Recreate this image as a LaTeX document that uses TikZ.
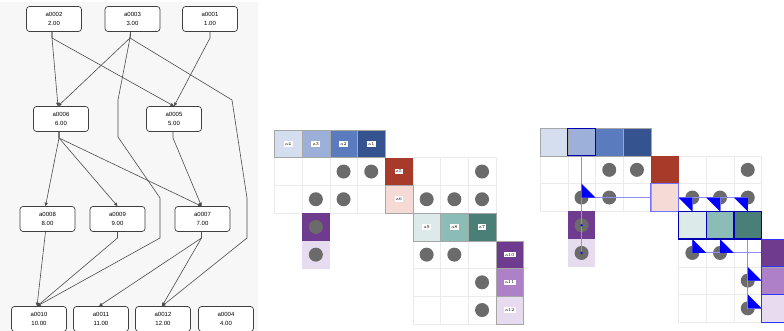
\documentclass[tikz,border=0pt]{standalone}
\usepackage{fontspec}
\newfontfamily\dagfont{Liberation Sans}
\usetikzlibrary{arrows.meta}

\definecolor{blueA}{HTML}{D5DEEF}
\definecolor{blueB}{HTML}{9DB0D9}
\definecolor{blueC}{HTML}{5B7BBF}
\definecolor{blueD}{HTML}{34538F}
\definecolor{redA}{HTML}{A83A2A}
\definecolor{redB}{HTML}{F5DAD5}
\definecolor{tealA}{HTML}{DCEAE9}
\definecolor{tealB}{HTML}{8CBCB6}
\definecolor{tealC}{HTML}{4A7F77}
\definecolor{purpA}{HTML}{6F3B8F}
\definecolor{purpB}{HTML}{AE80C8}
\definecolor{purpC}{HTML}{E7DCEF}

\begin{document}
\begin{tikzpicture}[x=1pt, y=-1pt, >={Triangle[length=3.5pt, width=3.2pt]},
    dag/.style={draw=black!75, fill=white, rounded corners=3pt, line width=0.7pt,
      minimum width=55pt, minimum height=25pt, align=center,
      font=\dagfont\fontsize{6}{9}\selectfont},
    link/.style={->, black!70, line width=0.6pt},
    tag/.style={fill=white, inner sep=1.3pt, font=\fontsize{4.5}{5}\selectfont},
    cellgrid/.style={draw=black!8, line width=0.4pt},
    cell/.style={draw=black!35, line width=0.4pt},
    ball/.style={fill=black!58},
    hl/.style={blue!45, line width=1pt},
    tri/.style={fill=blue}]
    \useasboundingbox (0,0) rectangle (784,331);
    \clip (0,0) rectangle (784,331);

    % 왼쪽 그래프 배경
    \fill[black!3] (0,2) rectangle (258,331);

    % 그래프 노드
    \node[dag] (n2) at (54,19) {a0002\\2.00};
    \node[dag] (n3) at (132.5,19) {a0003\\3.00};
    \node[dag] (n1) at (210,19) {a0001\\1.00};

    \node[dag] (n6) at (61,119) {a0006\\6.00};
    \node[dag] (n5) at (174,119) {a0005\\5.00};

    \node[dag] (n8) at (47.5,219) {a0008\\8.00};
    \node[dag] (n9) at (117.5,219) {a0009\\9.00};
    \node[dag] (n7) at (202.5,219) {a0007\\7.00};

    \node[dag] (n10) at (39,319) {a0010\\10.00};
    \node[dag] (n11) at (101,319) {a0011\\11.00};
    \node[dag] (n12) at (163,319) {a0012\\12.00};
    \node[dag] (n4) at (226,319) {a0004\\4.00};

    % 그래프 간선
    \draw[link] ([xshift=-2pt]n2.south) -- (52,38) -- ([xshift=-3pt]n6.north);
    \draw[link] ([xshift=-2pt]n2.south) -- (52,38) -- (n5.north);
    \draw[link] ([xshift=-2pt]n3.south) -- (130,38) -- ([xshift=-3pt]n6.north);
    \draw[link] ([xshift=-2pt]n3.south) -- (130,38) -- (118,100) -- (118,137)
      -- (160,198) -- (160,238) -- ([xshift=-2pt]n10.north);
    \draw[link] ([xshift=-2pt]n3.south) -- (130,38) -- (232,100) -- (247,198)
      -- (247,238) -- ([xshift=-1pt]n12.north);
    \draw[link] (n1.south) -- (210,38) -- (n5.north);

    \draw[link] ([xshift=-2pt]n6.south) -- (59,138) -- ([xshift=-2pt]n8.north);
    \draw[link] ([xshift=-2pt]n6.south) -- (59,138) -- (n9.north);
    \draw[link] ([xshift=-2pt]n6.south) -- (59,138) -- ([xshift=-1pt]n7.north);
    \draw[link] ([xshift=-1pt]n5.south) -- (173,138) -- ([xshift=-1pt]n7.north);

    \draw[link] ([xshift=-2pt]n8.south) -- ([xshift=-2pt]n10.north);
    \draw[link] (n9.south) -- (117.5,238) -- ([xshift=-2pt]n10.north);
    \draw[link] ([xshift=-1pt]n7.south) -- (201.5,238) -- ([xshift=-2pt]n11.north);
    \draw[link] ([xshift=-1pt]n7.south) -- (201.5,238) -- ([xshift=-1pt]n12.north);

    % 두 행렬 (가운데, 오른쪽) 공통 부분
    \foreach \ox/\oy in {274.3/130, 540/128.3} {
      \begin{scope}[shift={(\ox,\oy)}, x=27.7pt, y=-27.7pt]
        % 격자
        \draw[cellgrid] (0,1) rectangle (4,3) (0,2) -- (4,2) (1,1) -- (1,3) (2,1) -- (2,3) (3,1) -- (3,3);
        \draw[cellgrid] (5,1) rectangle (8,3) (5,2) -- (8,2) (6,1) -- (6,3) (7,1) -- (7,3);
        \draw[cellgrid] (5,4) rectangle (8,7) (5,5) -- (8,5) (5,6) -- (8,6) (6,4) -- (6,7) (7,4) -- (7,7);

        % 색 칸
        \path[cell, fill=blueA] (0,0) rectangle (1,1);
        \path[cell, fill=blueB] (1,0) rectangle (2,1);
        \path[cell, fill=blueC] (2,0) rectangle (3,1);
        \path[cell, fill=blueD] (3,0) rectangle (4,1);
        \fill[redA] (4,1) rectangle (5,2);
        \path[cell, fill=redB] (4,2) rectangle (5,3);
        \path[cell, fill=tealA] (5,3) rectangle (6,4);
        \path[cell, fill=tealB] (6,3) rectangle (7,4);
        \path[cell, fill=tealC] (7,3) rectangle (8,4);
        \path[cell, fill=purpA] (8,4) rectangle (9,5);
        \path[cell, fill=purpB] (8,5) rectangle (9,6);
        \path[cell, fill=purpC] (8,6) rectangle (9,7);
        \fill[purpA] (1,3) rectangle (2,4);
        \fill[purpC] (1,4) rectangle (2,5);

        % 회색 점
        \fill[ball] (2.5,1.5) circle[radius=7pt] (3.5,1.5) circle[radius=7pt] (7.5,1.5) circle[radius=7pt]
          (1.5,2.5) circle[radius=7pt] (2.5,2.5) circle[radius=7pt] (5.5,2.5) circle[radius=7pt]
          (6.5,2.5) circle[radius=7pt] (7.5,2.5) circle[radius=7pt] (1.5,3.5) circle[radius=7pt]
          (1.5,4.5) circle[radius=7pt] (5.5,4.5) circle[radius=7pt] (6.5,4.5) circle[radius=7pt]
          (7.5,5.5) circle[radius=7pt] (7.5,6.5) circle[radius=7pt];
      \end{scope}
    }

    % 가운데 행렬 이름표
    \begin{scope}[shift={(274.3,130)}, x=27.7pt, y=-27.7pt]
      \node[tag] (t4) at (0.5,0.5) {a4};
      \node[tag] (t3) at (1.5,0.5) {a3};
      \node[tag] (t2) at (2.5,0.5) {a2};
      \node[tag] (t1) at (3.5,0.5) {a1};
      \node[tag] (t5) at (4.5,1.5) {a5};
      \node[tag] (t6) at (4.5,2.5) {a6};
      \node[tag] (t9) at (5.5,3.5) {a9};
      \node[tag] (t8) at (6.5,3.5) {a8};
      \node[tag] (t7) at (7.5,3.5) {a7};
      \node[tag] (t10) at (8.5,4.5) {a10};
      \node[tag] (t11) at (8.5,5.5) {a11};
      \node[tag] (t12) at (8.5,6.5) {a12};
    \end{scope}

    % 오른쪽 행렬 강조 경로
    \begin{scope}[shift={(540,128.3)}, x=27.7pt, y=-27.7pt]
      \draw[hl] (1.5,1) -- (1.5,4.5);
      \draw[hl] (1.5,2.5) -- (4,2.5) (5,2.5) -- (7.5,2.5);
      \draw[hl] (5.5,2.5) -- (5.5,3) (6.5,2.5) -- (6.5,3) (7.5,2.5) -- (7.5,3);
      \draw[hl] (5.5,4) -- (5.5,4.5) -- (8,4.5) (6.5,4) -- (6.5,4.5);
      \draw[hl] (7.5,4) -- (7.5,6.5) -- (8,6.5) (7.5,5.5) -- (8,5.5);

      % 꺾이는 곳 삼각형
      \fill[tri] (1.5,2) -- (1.5,2.5) -- (2,2.5) -- cycle;
      \fill[tri] (5,2.5) -- (5.5,2.5) -- (5.5,3) -- cycle;
      \fill[tri] (6,2.5) -- (6.5,2.5) -- (6.5,3) -- cycle;
      \fill[tri] (7,2.5) -- (7.5,2.5) -- (7.5,3) -- cycle;
      \fill[tri] (5.5,4) -- (5.5,4.5) -- (6,4.5) -- cycle;
      \fill[tri] (6.5,4) -- (6.5,4.5) -- (7,4.5) -- cycle;
      \fill[tri] (7.5,5) -- (7.5,5.5) -- (8,5.5) -- cycle;
      \fill[tri] (7.5,6) -- (7.5,6.5) -- (8,6.5) -- cycle;

      % 강조 테두리
      \draw[blue!70!black, line width=1pt] (1,0) rectangle (2,1);
      \draw[blue!55, line width=1pt] (4,2) rectangle (5,3);
      \draw[blue!70!black, line width=1.3pt] (5,3) rectangle (8,4) (6,3) -- (6,4) (7,3) -- (7,4);
      \draw[blue!80, line width=1pt] (8,4) rectangle (9,7) (8,5) -- (9,5) (8,6) -- (9,6);

      \fill[blue] (1.5,3.5) circle[radius=1.3pt] (1.5,4.5) circle[radius=1.3pt];
    \end{scope}
\end{tikzpicture}
\end{document}
